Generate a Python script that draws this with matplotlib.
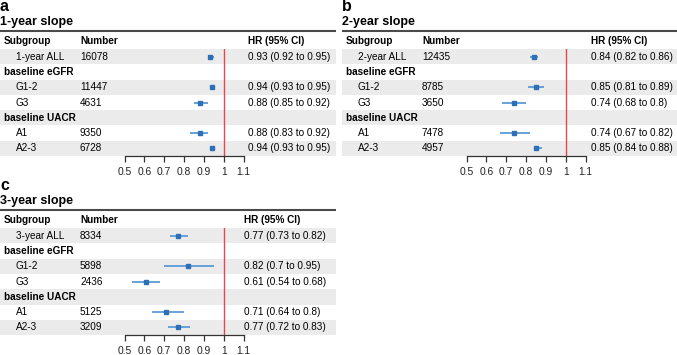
import numpy as np
import matplotlib
matplotlib.use("Agg")
import matplotlib.pyplot as plt

plt.rcParams['font.family'] = ['Liberation Sans', 'DejaVu Sans']

# data
subgroups_a = ["1-year ALL", "baseline eGFR", "G1-2", "G3", "baseline UACR", "A1", "A2-3"]
subgroups_b = ["2-year ALL", "baseline eGFR", "G1-2", "G3", "baseline UACR", "A1", "A2-3"]
subgroups_c = ["3-year ALL", "baseline eGFR", "G1-2", "G3", "baseline UACR", "A1", "A2-3"]
is_header = [False, True, False, False, True, False, False]

number_a = ["16078", "", "11447", "4631", "", "9350", "6728"]
number_b = ["12435", "", "8785", "3650", "", "7478", "4957"]
number_c = ["8334", "", "5898", "2436", "", "5125", "3209"]

nan = np.nan
hr_a = [0.93, nan, 0.94, 0.88, nan, 0.88, 0.94]
lo_a = [0.92, nan, 0.93, 0.85, nan, 0.83, 0.93]
hi_a = [0.95, nan, 0.95, 0.92, nan, 0.92, 0.95]

hr_b = [0.84, nan, 0.85, 0.74, nan, 0.74, 0.85]
lo_b = [0.82, nan, 0.81, 0.68, nan, 0.67, 0.84]
hi_b = [0.86, nan, 0.89, 0.80, nan, 0.82, 0.88]

hr_c = [0.77, nan, 0.82, 0.61, nan, 0.71, 0.77]
lo_c = [0.73, nan, 0.70, 0.54, nan, 0.64, 0.72]
hi_c = [0.82, nan, 0.95, 0.68, nan, 0.80, 0.83]

ticks = [0.5, 0.6, 0.7, 0.8, 0.9, 1.0, 1.1]

W, H = 677, 355
fig = plt.figure(figsize=(W / 100, H / 100), dpi=100)

# background axes in pixel coords for the table parts
bg = fig.add_axes([0, 0, 1, 1])
bg.set_xlim(0, W)
bg.set_ylim(H, 0)
bg.axis('off')

ROW_TOP = 49
ROW_H = 15.3
FS = 7.2


def panel(ox, oy, letter, title, subgroups, numbers, hr, lo, hi, hr_x, width):
    bg.text(ox + 0, oy + 11, letter, fontsize=11.5, fontweight='bold', va='baseline', ha='left')
    bg.text(ox + 0, oy + 25, title, fontsize=9, fontweight='bold', va='baseline', ha='left')
    bg.plot([ox, ox + width], [oy + 31, oy + 31], color='#4a4a4a', lw=1.5, solid_capstyle='butt')
    hy = oy + 41
    bg.text(ox + 4, hy, "Subgroup", fontsize=FS, fontweight='bold', va='center')
    bg.text(ox + 80, hy, "Number", fontsize=FS, fontweight='bold', va='center')
    bg.text(ox + hr_x, hy, "HR (95% CI)", fontsize=FS, fontweight='bold', va='center')
    for i, name in enumerate(subgroups):
        top = oy + ROW_TOP + i * ROW_H
        if i % 2 == 0:
            bg.add_patch(plt.Rectangle((ox, top), width, ROW_H, color='#ebebeb', lw=0, zorder=0))
        cy = top + ROW_H / 2
        if is_header[i]:
            bg.text(ox + 4, cy, name, fontsize=FS, fontweight='bold', va='center')
        else:
            bg.text(ox + 16, cy, name, fontsize=FS, va='center')
            bg.text(ox + 80, cy, numbers[i], fontsize=FS, va='center')
            txt = f"{hr[i]:g} ({lo[i]:g} to {hi[i]:g})"
            bg.text(ox + hr_x, cy, txt, fontsize=FS, va='center')

    # forest axes
    x0, x1 = ox + 124.5, ox + 243.5
    y0, y1 = oy + ROW_TOP, oy + ROW_TOP + 7 * ROW_H
    ax = fig.add_axes([x0 / W, 1 - y1 / H, (x1 - x0) / W, (y1 - y0) / H])
    ax.patch.set_alpha(0)
    ax.set_xlim(0.5, 1.1)
    ax.set_ylim(7, 0)
    ys = np.arange(len(hr)) + 0.5
    hr = np.array(hr)
    lo = np.array(lo)
    hi = np.array(hi)
    ok = ~np.isnan(hr)
    ax.hlines(ys[ok], lo[ok], hi[ok], color='#5b9bd5', lw=1.3, zorder=2)
    ax.plot(hr[ok], ys[ok], 's', color='#2d70b5', ms=3.4, zorder=3)
    ax.axvline(1.0, color='#e5484d', lw=1.0, zorder=1)
    for s in ['top', 'right', 'left']:
        ax.spines[s].set_visible(False)
    ax.spines['bottom'].set_bounds(0.5, 1.1)
    ax.spines['bottom'].set_color('#333333')
    ax.spines['bottom'].set_linewidth(0.9)
    ax.set_yticks([])
    ax.set_xticks(ticks)
    ax.set_xticklabels([f"{t:g}" for t in ticks])
    ax.tick_params(axis='x', direction='out', length=4, width=0.9, color='#333333',
                   labelsize=7.4, pad=3.5, labelcolor='#222222')
    return ax


panel(0, 0, "a", "1-year slope", subgroups_a, number_a, hr_a, lo_a, hi_a, 248, 336)
panel(342, 0, "b", "2-year slope", subgroups_b, number_b, hr_b, lo_b, hi_b, 249, 336)
panel(0, 179, "c", "3-year slope", subgroups_c, number_c, hr_c, lo_c, hi_c, 244, 336)

fig.savefig("out.png", dpi=100)
